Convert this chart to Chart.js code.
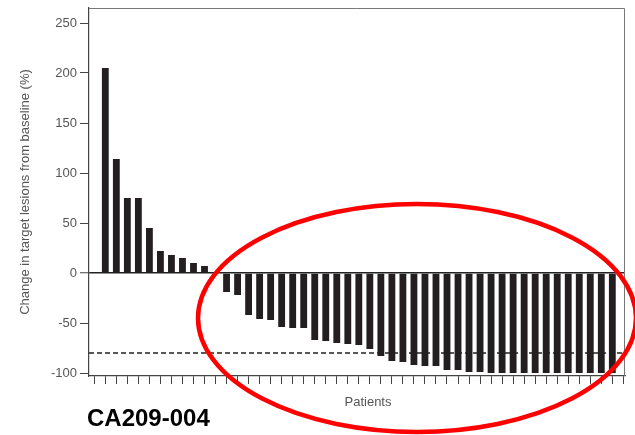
<!DOCTYPE html>
<html>
<head>
<meta charset="utf-8">
<script src="https://cdn.jsdelivr.net/npm/chart.js@4/dist/chart.umd.min.js"></script>
<style>
    body { margin: 0; background: #fff; }
    #wrap { width: 635px; height: 435px; }
</style>
</head>
<body>
<div id="wrap"><canvas id="waterfall" width="635" height="435"></canvas></div>
<script>
// Best change in target lesions per patient, sorted (waterfall)
const changes = [
    205, 114, 75, 75, 45, 22, 18, 15, 10, 7, 0,
    -19, -22, -42, -46, -47, -54, -55, -55, -67, -68, -70, -71, -72, -76, -83, -88, -89, -92,
    -93, -93, -97, -97, -99, -99,
    -100, -100, -100, -100, -100, -100, -100, -100, -100, -100, -100, -100
];
const patients = changes.map((_, i) => i + 1); // patient slots along x
const yTicks = [-100, -50, 0, 50, 100, 150, 200, 250];
const threshold = -80;
const yTitle = 'Change in target lesions from baseline (%)';
const xTitle = 'Patients';
const studyLabel = 'CA209-004';

const FONT = "'Liberation Sans', Arial, sans-serif";

// frame, dashed -80% line, captions and the red highlight ellipse
const extras = {
    id: 'extras',
    beforeDatasetsDraw(chart) {
        const { ctx, chartArea: a, scales } = chart;
        const y = scales.y.getPixelForValue(threshold);
        ctx.save();
        ctx.strokeStyle = '#222';
        ctx.lineWidth = 1.3;
        ctx.setLineDash([5, 3]);
        ctx.beginPath();
        ctx.moveTo(a.left, y);
        ctx.lineTo(a.right, y);
        ctx.stroke();
        ctx.restore();
    },
    afterDraw(chart) {
        const { ctx, chartArea: a } = chart;
        ctx.save();
        ctx.strokeStyle = '#777';
        ctx.lineWidth = 1;
        ctx.beginPath();
        ctx.moveTo(a.left, a.top + 0.5);
        ctx.lineTo(a.right - 0.5, a.top + 0.5);
        ctx.lineTo(a.right - 0.5, a.bottom);
        ctx.stroke();

        ctx.fillStyle = '#555';
        ctx.font = '13px ' + FONT;
        ctx.textAlign = 'center';
        ctx.textBaseline = 'middle';
        ctx.fillText(xTitle, (a.left + a.right) / 2 + 11, 402);

        ctx.fillStyle = '#000';
        ctx.font = 'bold 24px ' + FONT;
        ctx.textAlign = 'left';
        ctx.fillText(studyLabel, 87, 419);

        ctx.strokeStyle = '#ff0000';
        ctx.lineWidth = 4.5;
        ctx.beginPath();
        ctx.ellipse(417, 318, 219, 114, 0, 0, Math.PI * 2);
        ctx.stroke();
        ctx.restore();
    }
};

new Chart(document.getElementById('waterfall'), {
    type: 'bar',
    data: {
        datasets: [{
            data: patients.map((p, i) => ({ x: p, y: changes[i] })),
            backgroundColor: '#231f20',
            borderWidth: 0,
            categoryPercentage: 1,
            barPercentage: 0.62
        }]
    },
    options: {
        responsive: false,
        animation: false,
        layout: { padding: { top: 8, right: 10, left: 0, bottom: 0 } },
        plugins: { legend: { display: false }, tooltip: { enabled: false } },
        scales: {
            x: {
                type: 'linear',
                offset: false,
                min: -0.48,
                max: patients.length + 1.15,
                afterBuildTicks: s => {
                    s.ticks = [0, ...patients, patients.length + 1].map(v => ({ value: v }));
                },
                afterFit: s => { s.height = 59; s.paddingLeft = 0; s.paddingRight = 0; },
                ticks: { display: false },
                grid: {
                    offset: false,
                    drawOnChartArea: false,
                    tickLength: 8,
                    tickColor: '#444',
                    tickWidth: 1
                },
                border: { color: '#444', width: 1.2 }
            },
            y: {
                min: -103,
                max: 265,
                afterBuildTicks: s => { s.ticks = yTicks.map(v => ({ value: v })); },
                afterFit: s => { s.width = 89; s.paddingTop = 0; s.paddingBottom = 0; },
                ticks: {
                    color: '#555',
                    padding: 3,
                    font: { family: FONT, size: 13 }
                },
                grid: {
                    color: c => c.tick && c.tick.value === 0 ? '#222' : 'rgba(0,0,0,0)',
                    lineWidth: c => c.tick && c.tick.value === 0 ? 1.5 : 1,
                    tickLength: 9,
                    tickColor: '#444',
                    tickWidth: 1
                },
                border: { color: '#444', width: 1.2 },
                title: {
                    display: true,
                    text: yTitle,
                    color: '#555',
                    font: { family: FONT, size: 13 },
                    padding: { top: 18, bottom: 0 }
                }
            }
        }
    },
    plugins: [extras]
});
</script>
</body>
</html>
